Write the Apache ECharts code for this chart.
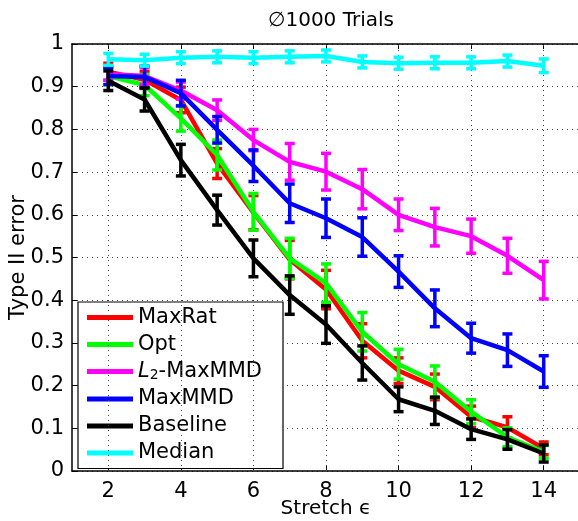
<!DOCTYPE html>
<html>
<head>
<meta charset="utf-8">
<script src="https://cdn.jsdelivr.net/npm/echarts@6/dist/echarts.min.js"></script>
<style>html,body{margin:0;padding:0;background:#fff;}#c{width:578px;height:521px;}</style>
</head>
<body>
<div id="c"></div>
<script>
const xs = [2, 3, 4, 5, 6, 7, 8, 9, 10, 11, 12, 13, 14];
const xTicks = [2, 4, 6, 8, 10, 12, 14];
const names = ['MaxRat', 'Opt', 'L2-MaxMMD', 'MaxMMD', 'Baseline', 'Median'];
const colors = ['#ff0000', '#00ff00', '#ff00ff', '#0000ff', '#000000', '#00ffff'];

const maxRat      = [0.935, 0.916, 0.869, 0.720, 0.605, 0.495, 0.425, 0.305, 0.235, 0.197, 0.127, 0.102, 0.053];
const maxRatErr   = [0.020, 0.020, 0.030, 0.035, 0.040, 0.045, 0.045, 0.040, 0.030, 0.030, 0.025, 0.025, 0.015];
const opt         = [0.925, 0.904, 0.826, 0.740, 0.607, 0.498, 0.440, 0.326, 0.250, 0.209, 0.139, 0.079, 0.045];
const optErr      = [0.020, 0.025, 0.030, 0.035, 0.043, 0.047, 0.045, 0.045, 0.035, 0.037, 0.028, 0.022, 0.015];
const l2MaxMMD    = [0.930, 0.925, 0.891, 0.845, 0.775, 0.724, 0.701, 0.660, 0.600, 0.571, 0.550, 0.504, 0.447];
const l2MaxMMDErr = [0.015, 0.020, 0.020, 0.024, 0.025, 0.043, 0.043, 0.046, 0.037, 0.044, 0.040, 0.041, 0.044];
const maxMMD      = [0.925, 0.923, 0.885, 0.799, 0.715, 0.627, 0.592, 0.548, 0.467, 0.381, 0.311, 0.283, 0.233];
const maxMMDErr   = [0.020, 0.025, 0.030, 0.031, 0.037, 0.045, 0.045, 0.045, 0.037, 0.043, 0.035, 0.038, 0.037];
const baseline    = [0.914, 0.870, 0.728, 0.611, 0.498, 0.412, 0.343, 0.253, 0.168, 0.141, 0.098, 0.074, 0.041];
const baselineErr = [0.023, 0.027, 0.037, 0.035, 0.043, 0.045, 0.044, 0.040, 0.029, 0.032, 0.024, 0.023, 0.020];
const median      = [0.964, 0.962, 0.968, 0.970, 0.968, 0.970, 0.972, 0.958, 0.955, 0.956, 0.956, 0.960, 0.949];
const medianErr   = [0.014, 0.014, 0.014, 0.014, 0.014, 0.014, 0.014, 0.014, 0.014, 0.014, 0.014, 0.014, 0.016];

const values = [maxRat, opt, l2MaxMMD, maxMMD, baseline, median];
const errors = [maxRatErr, optErr, l2MaxMMDErr, maxMMDErr, baselineErr, medianErr];

const FONT = 'DejaVu Sans';
const chart = echarts.init(document.getElementById('c'), null, {renderer: 'canvas'});

function errRender(color) {
  return function (params, api) {
    const x = api.value(0), lo = api.value(1), hi = api.value(2);
    const pLo = api.coord([x, lo]);
    const pHi = api.coord([x, hi]);
    const cw = 5;
    const st = {stroke: color, lineWidth: 3.5};
    return {
      type: 'group',
      children: [
        {type: 'line', shape: {x1: pLo[0], y1: pLo[1], x2: pHi[0], y2: pHi[1]}, style: st},
        {type: 'line', shape: {x1: pLo[0] - cw, y1: pLo[1], x2: pLo[0] + cw, y2: pLo[1]}, style: st},
        {type: 'line', shape: {x1: pHi[0] - cw, y1: pHi[1], x2: pHi[0] + cw, y2: pHi[1]}, style: st}
      ]
    };
  };
}

const series = [];
names.forEach(function (n, i) {
  series.push({
    name: n,
    type: 'line',
    data: xs.map(function (x, k) { return [x, values[i][k]]; }),
    symbol: 'none',
    lineStyle: {color: colors[i], width: 4.5},
    itemStyle: {color: colors[i]},
    z: 10 + i * 2,
    animation: false
  });
  series.push({
    name: n + ' err',
    type: 'custom',
    data: xs.map(function (x, k) { return [x, values[i][k] - errors[i][k], values[i][k] + errors[i][k]]; }),
    renderItem: errRender(colors[i]),
    encode: {x: 0, y: [1, 2]},
    z: 11 + i * 2,
    animation: false
  });
});
// vertical dotted grid lines at the x tick positions
series.push({
  name: 'grid',
  type: 'line',
  data: [],
  markLine: {
    silent: true,
    symbol: 'none',
    label: {show: false},
    lineStyle: {color: '#444', type: [1, 4], width: 1},
    data: xTicks.map(function (t) { return {xAxis: t}; }),
    animation: false
  },
  z: 1
});

chart.setOption({
  animation: false,
  backgroundColor: '#fff',
  title: {
    text: '∅1000 Trials',
    left: 326, top: 6, textAlign: 'center',
    textStyle: {fontFamily: FONT, fontSize: 20, fontWeight: 'normal', color: '#000'}
  },
  grid: {left: 72, top: 44, width: 508, height: 427, show: false, containLabel: false, outerBoundsMode: 'none'},
  legend: {
    data: names,
    orient: 'vertical',
    left: 78, top: 302,
    padding: [5, 21, 5, 9],
    itemGap: 6,
    itemWidth: 46, itemHeight: 5,
    icon: 'rect',
    backgroundColor: '#fff',
    borderColor: '#000', borderWidth: 1.2, borderRadius: 0,
    textStyle: {
      fontFamily: FONT, fontSize: 21, color: '#000', lineHeight: 21,
      rich: {
        i: {fontFamily: FONT, fontSize: 21, fontStyle: 'italic', color: '#000'},
        s: {fontFamily: FONT, fontSize: 14, color: '#000', padding: [8, 0, 0, 0]},
        n: {fontFamily: FONT, fontSize: 21, color: '#000'}
      }
    },
    formatter: function (name) {
      if (name === 'L2-MaxMMD') return '{i|L}{s|2}{n|-MaxMMD}';
      return name;
    }
  },
  xAxis: [{
    type: 'value', min: 1, max: 15,
    name: 'Stretch ϵ',
    nameLocation: 'middle', nameGap: 28, nameMoveOverlap: false,
    nameTextStyle: {fontFamily: FONT, fontSize: 20, color: '#000'},
    axisLine: {show: true, onZero: false, lineStyle: {color: '#000', width: 1.5}},
    axisTick: {show: true, inside: true, length: 5, customValues: xTicks, lineStyle: {color: '#000', width: 1}},
    axisLabel: {customValues: xTicks, margin: 10, fontFamily: FONT, fontSize: 21, color: '#000'},
    splitLine: {show: false}
  }, {
    type: 'value', min: 1, max: 15, position: 'top',
    axisLine: {show: true, onZero: false, lineStyle: {color: '#000', width: 1.5}},
    axisTick: {show: true, inside: true, length: 5, customValues: xTicks, lineStyle: {color: '#000', width: 1}},
    axisLabel: {show: false},
    splitLine: {show: false}
  }],
  yAxis: [{
    type: 'value', min: 0, max: 1, interval: 0.1,
    name: 'Type II error',
    nameLocation: 'middle', nameGap: 43, nameMoveOverlap: false,
    nameTextStyle: {fontFamily: FONT, fontSize: 21, color: '#000'},
    axisLine: {show: true, onZero: false, lineStyle: {color: '#000', width: 1.5}},
    axisTick: {show: true, inside: true, length: 5, lineStyle: {color: '#000', width: 1}},
    axisLabel: {margin: 8, fontFamily: FONT, fontSize: 21, color: '#000'},
    splitLine: {show: true, lineStyle: {color: '#444', type: [1, 4], width: 1}}
  }],
  series: series
});
</script>
</body>
</html>
